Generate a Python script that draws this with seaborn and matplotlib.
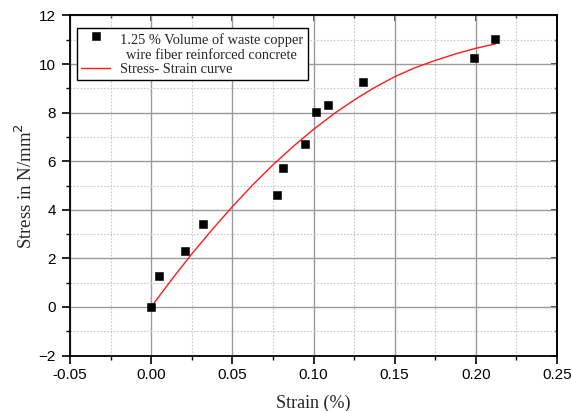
import matplotlib
matplotlib.use("Agg")
import matplotlib.pyplot as plt
from matplotlib.ticker import MultipleLocator
from matplotlib.collections import PathCollection
from matplotlib.legend_handler import HandlerPathCollection
import numpy as np
import pandas as pd
import seaborn as sns

# Measured points: 1.25 % waste copper wire fibre reinforced concrete
strain = [0.0, 0.0047, 0.021, 0.0318, 0.0778, 0.0809, 0.0948, 0.1018, 0.1088, 0.1307, 0.1989, 0.212]
stress = [0.0, 1.29, 2.30, 3.42, 4.61, 5.73, 6.70, 8.01, 8.33, 9.25, 10.25, 11.02]

# Fitted stress-strain curve
curve_strain = [0.0, 0.0125, 0.025, 0.0375, 0.05, 0.0625, 0.075, 0.0875, 0.1, 0.1125,
                0.125, 0.1375, 0.15, 0.1625, 0.175, 0.1875, 0.2, 0.212]
curve_stress = [0.0, 1.12, 2.18, 3.18, 4.13, 5.02, 5.85, 6.61, 7.31, 7.95,
                8.52, 9.03, 9.48, 9.85, 10.15, 10.42, 10.65, 10.83]

x_ticks = [-0.05, 0.0, 0.05, 0.10, 0.15, 0.20, 0.25]
x_tick_labels = ["-0.05", "0.00", "0.05", "0.10", "0.15", "0.20", "0.25"]
y_ticks = [-2, 0, 2, 4, 6, 8, 10, 12]

points = pd.DataFrame({"strain": strain, "stress": stress})
curve = pd.DataFrame({"strain": curve_strain, "stress": curve_stress})

sns.set_theme(style="white")
plt.rcParams["font.family"] = ["Liberation Sans", "DejaVu Sans"]

fig = plt.figure(figsize=(5.72, 4.11), dpi=100)
ax = fig.add_axes([0.1224, 0.135, 0.8514, 0.8273])

serif = ["Liberation Serif", "DejaVu Serif"]

sns.scatterplot(data=points, x="strain", y="stress", ax=ax, marker="s", s=40,
                color="black", edgecolor="black", linewidth=0.4, zorder=4,
                label="1.25 % Volume of waste copper\nwire fiber reinforced concrete")
sns.lineplot(data=curve, x="strain", y="stress", ax=ax, color="#ff1a1a", lw=1.0,
             zorder=3, label="Stress- Strain curve")

ax.set_xlim(-0.05, 0.25)
ax.set_ylim(-2, 12)
ax.set_xticks(x_ticks)
ax.set_xticklabels(x_tick_labels)
ax.set_yticks(y_ticks)
ax.xaxis.set_minor_locator(MultipleLocator(0.025))
ax.yaxis.set_minor_locator(MultipleLocator(1))

ax.grid(which="major", color="#9a9a9a", lw=1.0, ls="-")
ax.grid(which="minor", color="#c8c8c8", lw=0.8, ls=(0, (1.5, 1.5)))
ax.set_axisbelow(True)

for sp in ax.spines.values():
    sp.set_visible(True)
    sp.set_color("black")
    sp.set_linewidth(1.3)

ax.tick_params(which="major", direction="out", length=6, width=1.2, colors="black",
               labelsize=11, pad=3)
ax.tick_params(which="minor", direction="out", length=3, width=1.0, colors="black")
ax.tick_params(axis="y", which="major", pad=4)
ax.tick_params(left=True, bottom=True, which="both")

# Mirrored inward ticks along top and right edges
top = ax.secondary_xaxis("top")
top.set_xticks(x_ticks)
top.xaxis.set_minor_locator(MultipleLocator(0.025))
top.tick_params(which="major", direction="in", length=4, width=1.2, labeltop=False)
top.tick_params(which="minor", direction="in", length=2.5, width=1.0)
right = ax.secondary_yaxis("right")
right.set_yticks(y_ticks)
right.yaxis.set_minor_locator(MultipleLocator(1))
right.tick_params(which="major", direction="in", length=4, width=1.2, labelright=False)
right.tick_params(which="minor", direction="in", length=2.5, width=1.0)
for sec in (top, right):
    for sp in sec.spines.values():
        sp.set_linewidth(1.3)

ax.set_xlabel("Strain (%)", family=serif, fontsize=13, labelpad=9)
ax.set_ylabel("Stress in N/mm$^2$", family=serif, fontsize=13.5, labelpad=2)

# Square marker sits on the first line of its two-line legend label
leg = ax.legend(loc="upper left", bbox_to_anchor=(0.014, 0.962), frameon=True,
                fancybox=False, edgecolor="black", framealpha=1.0,
                prop={"family": serif, "size": 10.4}, borderpad=0.3,
                labelspacing=0.1, handlelength=2.0, handletextpad=0.7,
                borderaxespad=0,
                handler_map={PathCollection: HandlerPathCollection(yoffsets=[1.6])})
leg.get_frame().set_linewidth(1.0)
leg.get_texts()[0].set_multialignment("center")

fig.savefig("out.png", dpi=100)
